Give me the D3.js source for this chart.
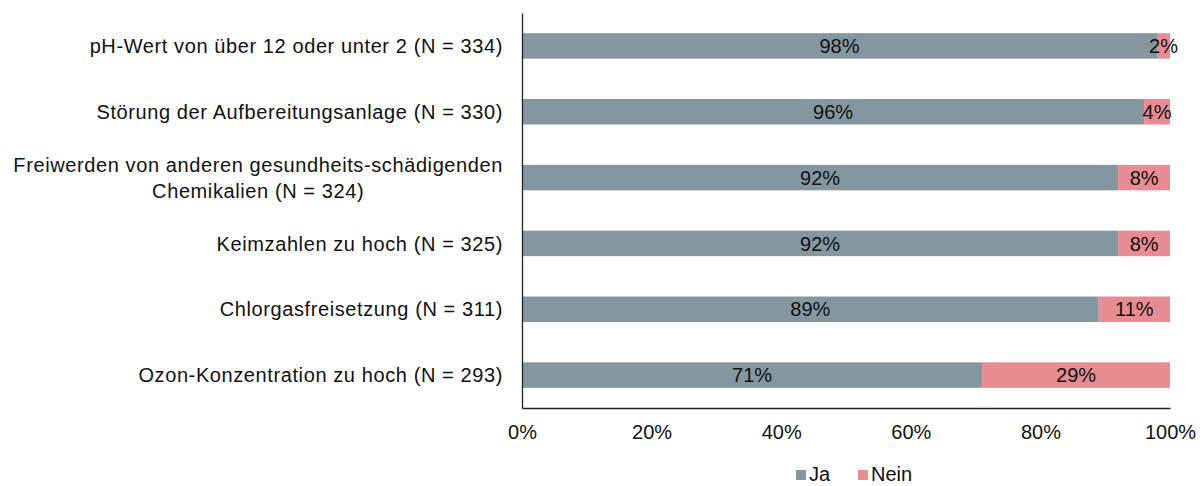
<!DOCTYPE html>
<html>
<head>
<meta charset="utf-8">
<script src="https://cdn.jsdelivr.net/npm/d3@7"></script>
<style>
  body { margin: 0; background: #fff; }
  text { font-family: "Liberation Sans", Arial, sans-serif; fill: #111; }
</style>
</head>
<body>
<div id="chart"></div>
<script>
// values
const categories = [
  "pH-Wert von über 12 oder unter 2 (N = 334)",
  "Störung der Aufbereitungsanlage (N = 330)",
  "Freiwerden von anderen gesundheits-schädigenden\nChemikalien (N = 324)",
  "Keimzahlen zu hoch (N = 325)",
  "Chlorgasfreisetzung (N = 311)",
  "Ozon-Konzentration zu hoch (N = 293)"
];
const jaValues = [98, 96, 92, 92, 89, 71];
const neinValues = [2, 4, 8, 8, 11, 29];
const seriesNames = ["Ja", "Nein"];
const xTicks = [0, 20, 40, 60, 80, 100];

const width = 1202;
const height = 486;
const fontSize = 20;

const colors = d3.scaleOrdinal()
    .domain(seriesNames)
    .range(["#8497a1", "#e88c93"]);

const svg = d3.select("#chart").append("svg")
    .attr("width", width)
    .attr("height", height);

const x = d3.scaleLinear()
    .domain([0, 100])
    .range([522, 1170]);

const y = d3.scaleBand()
    .domain(categories)
    .range([13, 408])
    .paddingInner(0.613)
    .paddingOuter(0.3065);

// build stacked rows from the arrays
const rows = categories.map(function(c, i) {
  return { cat: c, Ja: jaValues[i], Nein: neinValues[i] };
});
const stacked = d3.stack().keys(seriesNames)(rows);

const layers = svg.selectAll(".layer")
    .data(stacked)
    .enter().append("g")
    .attr("class", "layer")
    .attr("fill", function(d) { return colors(d.key); });

layers.selectAll("rect")
    .data(function(d) { return d; })
    .enter().append("rect")
    .attr("x", function(d) { return x(d[0]); })
    .attr("y", function(d) { return y(d.data.cat); })
    .attr("width", function(d) { return x(d[1]) - x(d[0]); })
    .attr("height", y.bandwidth());

// value labels in the middle of each segment
layers.selectAll(".val")
    .data(function(d) { return d.map(function(s) { return { s: s, key: d.key }; }); })
    .enter().append("text")
    .attr("class", "val")
    .attr("x", function(d) { return x((d.s[0] + d.s[1]) / 2); })
    .attr("y", function(d) { return y(d.s.data.cat) + y.bandwidth() / 2; })
    .attr("dy", "0.36em")
    .attr("text-anchor", "middle")
    .style("font-size", fontSize + "px")
    .text(function(d) { return d.s.data[d.key] + "%"; });

// x axis
const xAxis = svg.append("g")
    .attr("transform", "translate(0,408)")
    .call(d3.axisBottom(x)
      .tickValues(xTicks)
      .tickSize(0)
      .tickPadding(17)
      .tickFormat(function(d) { return d + "%"; }));

xAxis.select(".domain").attr("stroke", "#222").attr("stroke-width", 1.3);
xAxis.selectAll("text")
    .style("font-size", fontSize + "px")
    .attr("fill", "#111");

// y axis with category labels
const yAxis = svg.append("g")
    .attr("transform", "translate(522,0)")
    .call(d3.axisLeft(y).tickSize(0).tickPadding(19).tickFormat(""));

yAxis.select(".domain").attr("stroke", "#222").attr("stroke-width", 1.3);

yAxis.selectAll(".tick").each(function(d) {
  const lines = d.split("\n");
  const t = d3.select(this).select("text")
      .style("font-size", fontSize + "px")
      .style("letter-spacing", "0.6px")
      .attr("fill", "#111")
      .attr("dy", null)
      .text(null);
  if (lines.length === 1) {
    t.attr("dy", "0.36em").text(lines[0]);
  } else {
    const first = t.append("tspan")
        .attr("x", -19)
        .attr("dy", "-0.3em")
        .attr("text-anchor", "end")
        .text(lines[0]);
    const len = first.node().getComputedTextLength();
    t.append("tspan")
        .attr("x", -19 - len / 2)
        .attr("dy", "1.3em")
        .attr("text-anchor", "middle")
        .text(lines[1]);
  }
});

// legend
const legendX = [796, 858];
const legend = svg.selectAll(".legend")
    .data(seriesNames)
    .enter().append("g")
    .attr("class", "legend")
    .attr("transform", function(d, i) { return "translate(" + legendX[i] + ",470)"; });

legend.append("rect")
    .attr("width", 10)
    .attr("height", 10)
    .attr("fill", function(d) { return colors(d); });

legend.append("text")
    .attr("x", 13)
    .attr("y", 5)
    .attr("dy", "0.3em")
    .style("font-size", fontSize + "px")
    .text(function(d) { return d; });
</script>
</body>
</html>
